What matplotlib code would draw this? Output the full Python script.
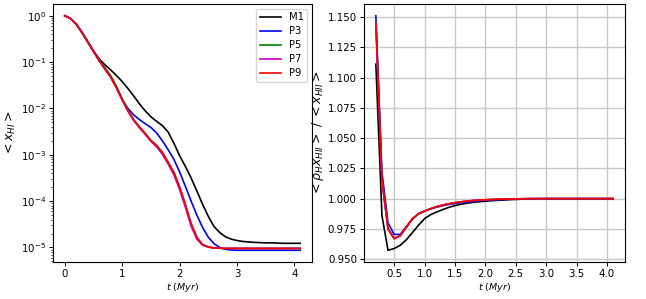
import matplotlib
matplotlib.use("Agg")
import matplotlib.pyplot as plt
import numpy as np

fontsize = 7.4
xlblsize = 6.8
ylblsize = 9

# time grids (Myr)
t_left = np.round(np.arange(0.0, 4.15, 0.1), 1)
t_right = np.round(np.arange(0.2, 4.15, 0.1), 1)

labels = ["M1", "P3", "P5", "P7", "P9"]
colors = ["black", "blue", "green", "m", "red"]

# log10 <x_HI>, sampled every 0.1 Myr from 0 to 4.1
logxHI_M1 = [0.0, -0.06, -0.19, -0.37, -0.57, -0.76, -0.93, -1.06, -1.17, -1.29,
             -1.42, -1.57, -1.73, -1.90, -2.05, -2.18, -2.28, -2.37, -2.51, -2.75,
             -3.02, -3.25, -3.50, -3.78, -4.07, -4.33, -4.55, -4.68, -4.77, -4.82,
             -4.85, -4.87, -4.88, -4.89, -4.895, -4.90, -4.90, -4.905, -4.91, -4.91,
             -4.91, -4.91]
logxHI_P3 = [0.0, -0.06, -0.18, -0.36, -0.56, -0.77, -0.97, -1.15, -1.32, -1.55,
             -1.81, -2.00, -2.14, -2.24, -2.33, -2.41, -2.53, -2.70, -2.89, -3.10,
             -3.37, -3.68, -4.00, -4.30, -4.57, -4.78, -4.92, -5.00, -5.04, -5.055,
             -5.06, -5.06, -5.06, -5.06, -5.06, -5.06, -5.06, -5.06, -5.06, -5.06,
             -5.06, -5.06]
logxHI_P5 = [0.0, -0.06, -0.18, -0.36, -0.56, -0.76, -0.95, -1.12, -1.29, -1.52,
             -1.79, -2.04, -2.24, -2.40, -2.54, -2.69, -2.80, -2.95, -3.16, -3.38,
             -3.70, -4.08, -4.49, -4.79, -4.94, -4.99, -5.01, -5.015, -5.02, -5.02,
             -5.02, -5.02, -5.02, -5.02, -5.02, -5.02, -5.02, -5.02, -5.02, -5.02,
             -5.02, -5.02]
logxHI_P7 = [0.0, -0.06, -0.18, -0.36, -0.56, -0.77, -0.97, -1.15, -1.33, -1.56,
             -1.82, -2.06, -2.26, -2.42, -2.56, -2.71, -2.83, -2.99, -3.20, -3.43,
             -3.75, -4.13, -4.54, -4.82, -4.95, -4.99, -5.01, -5.015, -5.02, -5.02,
             -5.02, -5.02, -5.02, -5.02, -5.02, -5.02, -5.02, -5.02, -5.02, -5.02,
             -5.02, -5.02]
logxHI_P9 = [0.0, -0.06, -0.18, -0.36, -0.56, -0.77, -0.97, -1.15, -1.32, -1.55,
             -1.81, -2.05, -2.25, -2.40, -2.54, -2.69, -2.80, -2.95, -3.16, -3.38,
             -3.69, -4.07, -4.48, -4.78, -4.94, -4.99, -5.01, -5.015, -5.02, -5.02,
             -5.02, -5.02, -5.02, -5.02, -5.02, -5.02, -5.02, -5.02, -5.02, -5.02,
             -5.02, -5.02]

# <rho_H x_HII> / <x_HII>, sampled every 0.1 Myr from 0.2 to 4.1
ratio_M1 = [1.111, 0.986, 0.9574, 0.9588, 0.9615, 0.966, 0.972, 0.978, 0.9835, 0.9868,
            0.989, 0.991, 0.9928, 0.9943, 0.9954, 0.9963, 0.9970, 0.9975, 0.9979, 0.9983,
            0.9986, 0.9989, 0.9992, 0.9994, 0.9996, 0.9997, 0.9998, 0.9999, 1.0, 1.0,
            1.0, 1.0, 1.0, 1.0, 1.0, 1.0, 1.0, 1.0, 1.0, 1.0]
ratio_P3 = [1.151, 1.022, 0.980, 0.9705, 0.9705, 0.977, 0.983, 0.9875, 0.9897, 0.9915,
            0.993, 0.9942, 0.9952, 0.996, 0.9967, 0.9973, 0.9978, 0.9982, 0.9986, 0.9989,
            0.9991, 0.9993, 0.9995, 0.9997, 0.9998, 0.9999, 1.0, 1.0, 1.0, 1.0,
            1.0, 1.0, 1.0, 1.0, 1.0, 1.0, 1.0, 1.0, 1.0, 1.0]
ratio_P5 = [1.146, 1.016, 0.9755, 0.9672, 0.9695, 0.9762, 0.9832, 0.9874, 0.9896, 0.9916,
            0.9933, 0.9946, 0.9957, 0.9966, 0.9973, 0.9979, 0.9984, 0.9988, 0.9991, 0.9993,
            0.9995, 0.9996, 0.9997, 0.9998, 0.9999, 1.0, 1.0, 1.0, 1.0, 1.0,
            1.0, 1.0, 1.0, 1.0, 1.0, 1.0, 1.0, 1.0, 1.0, 1.0]
ratio_P7 = [1.145, 1.015, 0.975, 0.967, 0.9693, 0.9763, 0.9834, 0.9875, 0.9897, 0.9917,
            0.9934, 0.9947, 0.9958, 0.9967, 0.9974, 0.998, 0.9985, 0.9988, 0.9991, 0.9993,
            0.9995, 0.9996, 0.9997, 0.9998, 0.9999, 1.0, 1.0, 1.0, 1.0, 1.0,
            1.0, 1.0, 1.0, 1.0, 1.0, 1.0, 1.0, 1.0, 1.0, 1.0]
ratio_P9 = [1.145, 1.015, 0.975, 0.967, 0.9695, 0.9765, 0.9835, 0.9876, 0.9898, 0.9918,
            0.9934, 0.9947, 0.9958, 0.9967, 0.9974, 0.998, 0.9985, 0.9988, 0.9991, 0.9993,
            0.9995, 0.9996, 0.9997, 0.9998, 0.9999, 1.0, 1.0, 1.0, 1.0, 1.0,
            1.0, 1.0, 1.0, 1.0, 1.0, 1.0, 1.0, 1.0, 1.0, 1.0]

logxHI = [logxHI_M1, logxHI_P3, logxHI_P5, logxHI_P7, logxHI_P9]
ratios = [ratio_M1, ratio_P3, ratio_P5, ratio_P7, ratio_P9]

fig = plt.figure(figsize=(6.46, 2.99), dpi=100)
ax1 = fig.add_axes([53/646, 37/299, 259/646, 258/299])
ax2 = fig.add_axes([364/646, 37/299, 261/646, 258/299])

# left panel: mean neutral fraction
for lab, col, vals in zip(labels, colors, logxHI):
	ax1.plot(t_left, 10**np.array(vals), color=col, label=lab, linewidth=1.2)
ax1.set_yscale('log')
ax1.set_xticks([0, 1, 2, 3, 4])
ax1.set_xlabel(r"$t\ (Myr)$", fontsize=xlblsize)
ax1.set_ylabel(r"$<x_{HI}>$", fontsize=ylblsize)
ax1.xaxis.set_label_coords(0.5, -0.072)
ax1.yaxis.set_label_coords(-0.135, 0.5)
ax1.legend(loc='upper right', fontsize=7.2, handlelength=2.1,
           borderpad=0.35, labelspacing=0.4)

# right panel: density weighted ionised fraction
for lab, col, vals in zip(labels, colors, ratios):
	ax2.plot(t_right, vals, color=col, label=lab, linewidth=1.2)
ax2.set_xticks([0.5, 1.0, 1.5, 2.0, 2.5, 3.0, 3.5, 4.0])
ax2.set_yticks([0.950, 0.975, 1.000, 1.025, 1.050, 1.075, 1.100, 1.125, 1.150])
ax2.grid(True, color='#c8c8c8', linewidth=1.0)
ax2.set_xlabel(r"$t\ (Myr)$", fontsize=xlblsize)
ax2.set_ylabel(r"$<\rho_H x_{HII}>\ /\ <x_{HII}>$", fontsize=ylblsize)
ax2.xaxis.set_label_coords(0.5, -0.072)
ax2.yaxis.set_label_coords(-0.146, 0.5)

for ax in [ax1, ax2]:
	ax.tick_params(which='major', labelsize=fontsize, length=2.6, width=0.7, pad=2.5)
	ax.tick_params(which='minor', length=1.5, width=0.5)

fig.savefig("out.png", dpi=100)
